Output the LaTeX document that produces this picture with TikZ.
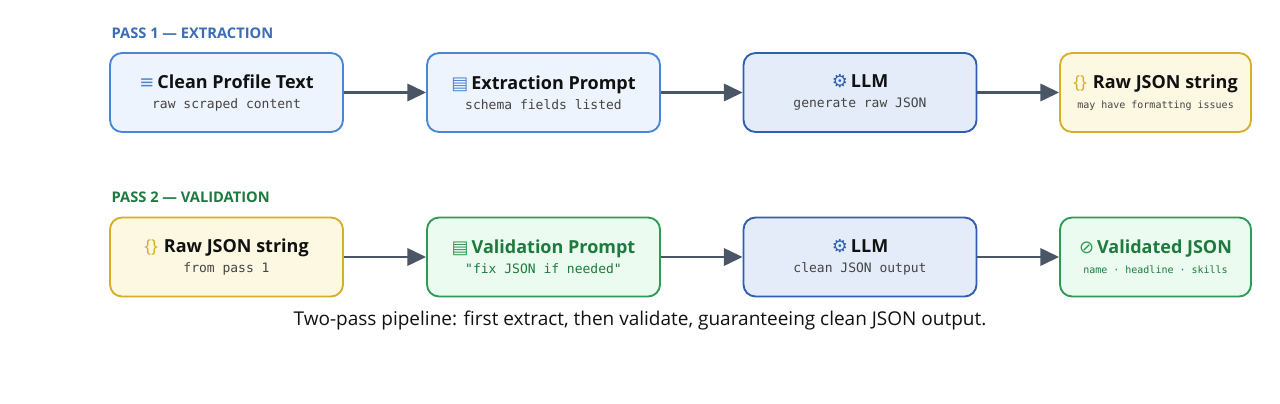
\documentclass[tikz,border=0pt]{standalone}
\usepackage{fontspec}
\setmainfont{Open Sans}
\setmonofont{DejaVu Sans Mono}
\newfontfamily\symf{DejaVu Sans}
\usetikzlibrary{arrows.meta}
\definecolor{bB}{HTML}{4A86D4}\definecolor{bF}{HTML}{EEF4FD}
\definecolor{lB}{HTML}{2F5EB3}\definecolor{lF}{HTML}{E4ECF9}
\definecolor{yB}{HTML}{D6AE2A}\definecolor{yF}{HTML}{FDF8E2}
\definecolor{gB}{HTML}{2E9A55}\definecolor{gF}{HTML}{EBFBEF}
\definecolor{gT}{HTML}{1E7A3E}\definecolor{pT}{HTML}{3A6DB5}
\definecolor{aC}{HTML}{4A5566}\definecolor{sT}{HTML}{444444}
\definecolor{tT}{HTML}{111111}
\begin{document}
\begin{tikzpicture}[x=0.75pt,y=-0.75pt,
 box/.style={rounded corners=9pt,line width=1.4pt,minimum width=174.75pt,minimum height=59.25pt,align=center,inner sep=0pt},
 sbox/.style={box,minimum width=143.25pt},
 pass/.style={font=\bfseries\fontsize{11}{12}\selectfont,anchor=west},
 arr/.style={draw=aC,line width=1.8pt,-{Triangle[length=14pt,width=13pt]}}]
\useasboundingbox (0,0) rectangle (1280,403);
\node[pass,text=pT] (p1) at (107,33) {PASS 1 — EXTRACTION};
\node[pass,text=gT] (p2) at (107,197) {PASS 2 — VALIDATION};
% row 1
\node[box,draw=bB,fill=bF] (a1) at (226.5,92.5) {{\fontsize{13.5}{15}\selectfont{\symf\color{bB}≡}\,\bfseries\color{tT}Clean Profile Text}\\[3pt]{\ttfamily\fontsize{9.75}{11}\selectfont\color{sT}raw scraped content}};
\node[box,draw=bB,fill=bF] (a2) at (543.5,92.5) {{\fontsize{13.5}{15}\selectfont{\symf\color{bB}▤}\,\bfseries\color{tT}Extraction Prompt}\\[3pt]{\ttfamily\fontsize{9.75}{11}\selectfont\color{sT}schema fields listed}};
\node[box,draw=lB,fill=lF] (a3) at (860,92.5) {{\fontsize{13.5}{15}\selectfont{\symf\color{lB}⚙}\,\bfseries\color{tT}LLM}\\[3pt]{\ttfamily\fontsize{9.75}{11}\selectfont\color{sT}generate raw JSON}};
\node[sbox,draw=yB,fill=yF] (a4) at (1155.5,92.5) {{\fontsize{13.5}{15}\selectfont{\color{yB}\{\}}\,\,\bfseries\color{tT}Raw JSON string}\\[3pt]{\ttfamily\fontsize{7.5}{9}\selectfont\color{sT}may have formatting issues}};
% row 2
\node[box,draw=yB,fill=yF] (b1) at (226.5,257) {{\fontsize{13.5}{15}\selectfont{\color{yB}\{\}}\,\,\bfseries\color{tT}Raw JSON string}\\[3pt]{\ttfamily\fontsize{9.75}{11}\selectfont\color{sT}from pass 1}};
\node[box,draw=gB,fill=gF] (b2) at (543.5,257) {{\fontsize{13.5}{15}\selectfont{\symf\color{gB}▤}\,\bfseries\color{gT}Validation Prompt}\\[3pt]{\ttfamily\fontsize{9.75}{11}\selectfont\color{gT}"fix JSON if needed"}};
\node[box,draw=lB,fill=lF] (b3) at (860,257) {{\fontsize{13.5}{15}\selectfont{\symf\color{lB}⚙}\,\bfseries\color{tT}LLM}\\[3pt]{\ttfamily\fontsize{9.75}{11}\selectfont\color{sT}clean JSON output}};
\node[sbox,draw=gB,fill=gF] (b4) at (1155.5,257) {{\fontsize{13.5}{15}\selectfont{\symf\color{gB}⊘}\,\bfseries\color{gT}Validated JSON}\\[3pt]{\ttfamily\fontsize{7.5}{9}\selectfont\color{gT}name · headline · skills}};
\draw[arr] (a1) -- (a2); \draw[arr] (a2) -- (a3); \draw[arr] (a3) -- (a4);
\draw[arr] (b1) -- (b2); \draw[arr] (b2) -- (b3); \draw[arr] (b3) -- (b4);
\node[font=\fontsize{14.25}{16}\selectfont,text=tT] (cap) at (640,321) {Two-pass pipeline: first extract, then validate, guaranteeing clean JSON output.};
\end{tikzpicture}
\end{document}
